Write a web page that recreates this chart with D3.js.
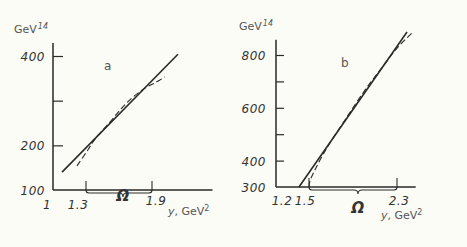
<!DOCTYPE html>
<html>
<head>
<meta charset="utf-8">
<script src="https://cdn.jsdelivr.net/npm/d3@7"></script>
<style>
  html, body { margin: 0; padding: 0; background: #fcfcf7; }
  svg { display: block; }
  .num { font-family: "DejaVu Sans", sans-serif; font-style: italic; font-size: 12px; fill: #333; letter-spacing: 0.5px; }
  .lbl { font-family: "DejaVu Sans", sans-serif; font-size: 11px; fill: #555; }
</style>
</head>
<body>
<svg width="467" height="247"></svg>
<script>
// panel a
const xLabelsA = [1, 1.3, 1.9];
const yLabelsA = [100, 200, 400];
const yTicksA = [200, 300, 400];
const omegaA = [1.3, 1.9];
const solidA = [[1.082, 140], [2.136, 404]];
const dashedA = [[1.218, 154], [1.318, 190], [1.382, 214], [1.518, 252], [1.627, 284],
                 [1.727, 308], [1.836, 328], [1.927, 340], [2.018, 353]];

// panel b
const xLabelsB = [1.2, 1.5, 2.3];
const yLabelsB = [300, 400, 600, 800];
const yTicksB = [400, 500, 600, 700, 800];
const omegaB = [1.5, 2.3];
const solidB = [[1.409, 300], [2.391, 887]];
const dashedB = [[1.5, 300], [1.509, 323], [1.545, 357], [1.6, 402], [1.673, 455],
                 [1.827, 554], [2.009, 667], [2.173, 758], [2.309, 830], [2.445, 887]];

const svg = d3.select("svg");
const ink = "#2a2a2a";

function panel(o) {
  const x = d3.scaleLinear().domain(o.xDom).range(o.xRange);
  const y = d3.scaleLinear().domain(o.yDom).range(o.yRange);
  const g = svg.append("g");

  // axes lines
  g.append("line")
    .attr("x1", x(o.xDom[0])).attr("x2", x(o.xDom[0]))
    .attr("y1", y(o.yDom[0])).attr("y2", y(o.yTop))
    .attr("stroke", ink).attr("stroke-width", 1.5);
  g.append("line")
    .attr("x1", x(o.xDom[0])).attr("x2", x(o.xEnd))
    .attr("y1", y(o.yDom[0])).attr("y2", y(o.yDom[0]))
    .attr("stroke", ink).attr("stroke-width", 1.5);

  // ticks pointing inward
  const ax = g.append("g")
    .attr("transform", "translate(" + x(o.xDom[0]) + ",0)")
    .call(d3.axisRight(y).tickValues(o.yTicks).tickSize(o.tickLen).tickFormat(""));
  ax.select(".domain").remove();
  ax.selectAll("line").attr("stroke", ink).attr("stroke-width", 1.2);

  // y labels
  g.selectAll(".yl").data(o.yLabels).enter().append("text")
    .attr("class", "num")
    .attr("x", x(o.xDom[0]) - o.yLabelGap)
    .attr("y", d => y(d) + 5)
    .attr("text-anchor", "end")
    .text(d => d);

  // x labels
  g.selectAll(".xl").data(o.xLabels).enter().append("text")
    .attr("class", "num")
    .attr("x", (d, i) => x(d) + o.xNudge[i])
    .attr("y", (d, i) => o.xLabelY[i])
    .attr("text-anchor", "middle")
    .text(d => d);

  // brace under the x axis
  const bx0 = x(o.omega[0]), bx1 = x(o.omega[1]);
  const bm = (bx0 + bx1) / 2 + o.cuspShift;
  const by = o.braceY, bt = o.braceTop;
  g.append("path")
    .attr("d", "M" + bx0 + "," + bt + " L" + bx0 + "," + (by - 3) +
      " Q" + bx0 + "," + by + " " + (bx0 + 3) + "," + by +
      " L" + (bm - 4) + "," + by +
      " Q" + bm + "," + by + " " + bm + "," + (by + 4) +
      " Q" + bm + "," + by + " " + (bm + 4) + "," + by +
      " L" + (bx1 - 3) + "," + by +
      " Q" + bx1 + "," + by + " " + bx1 + "," + (by - 3) +
      " L" + bx1 + "," + bt)
    .attr("fill", "none").attr("stroke", ink).attr("stroke-width", 1.1);

  g.append("text")
    .attr("x", bm).attr("y", o.omegaY)
    .attr("text-anchor", "middle")
    .style("font-family", "DejaVu Sans, sans-serif")
    .style("font-style", "italic").style("font-weight", "bold")
    .style("font-size", "15px").attr("fill", "#333")
    .text("Ω");

  // curves
  const line = d3.line().x(d => x(d[0])).y(d => y(d[1]));
  g.append("path").datum(o.solid)
    .attr("d", line).attr("fill", "none")
    .attr("stroke", ink).attr("stroke-width", 1.6);
  g.append("path").datum(o.dashed)
    .attr("d", line.curve(d3.curveCatmullRom))
    .attr("fill", "none").attr("stroke", ink).attr("stroke-width", 1.1)
    .attr("stroke-dasharray", "6,3");

  // unit texts
  const gev = g.append("text").attr("class", "lbl")
    .attr("x", o.gevX).attr("y", o.gevY);
  gev.append("tspan").text("GeV");
  gev.append("tspan").attr("dy", -4).attr("dx", 1)
    .style("font-size", "8px").style("font-style", "italic").text("14");

  const yl = g.append("text").attr("class", "lbl")
    .attr("x", o.unitX).attr("y", o.unitY);
  yl.append("tspan").style("font-style", "italic").text("y");
  yl.append("tspan").text(", GeV");
  yl.append("tspan").attr("dy", -4).style("font-size", "8px").text("2");

  g.append("text").attr("class", "lbl")
    .attr("x", o.tagX).attr("y", o.tagY)
    .style("font-size", "12px")
    .text(o.tag);
}

panel({
  xDom: [1, 1.9], xRange: [53, 152], xEnd: 2.45,
  yDom: [100, 400], yRange: [190, 56], yTop: 429,
  yTicks: yTicksA, yLabels: yLabelsA, xLabels: xLabelsA,
  xNudge: [-6, -8, 4], tickLen: 10, yLabelGap: 8, xLabelY: [209, 209, 205],
  omega: omegaA, braceY: 193, braceTop: 181, cuspShift: 4, omegaY: 201,
  solid: solidA, dashed: dashedA,
  gevX: 14, gevY: 33, unitX: 168, unitY: 215, tag: "a", tagX: 104, tagY: 70
});

panel({
  xDom: [1.2, 2.3], xRange: [276, 397], xEnd: 2.47,
  yDom: [300, 800], yRange: [187, 55], yTop: 858,
  yTicks: yTicksB, yLabels: yLabelsB, xLabels: xLabelsB,
  xNudge: [6, -4, 2], tickLen: 8, yLabelGap: 10, xLabelY: [205, 205, 205],
  omega: omegaB, braceY: 190, braceTop: 178, cuspShift: 5, omegaY: 213,
  solid: solidB, dashed: dashedB,
  gevX: 239, gevY: 30, unitX: 381, unitY: 219, tag: "b", tagX: 341, tagY: 67
});
</script>
</body>
</html>
